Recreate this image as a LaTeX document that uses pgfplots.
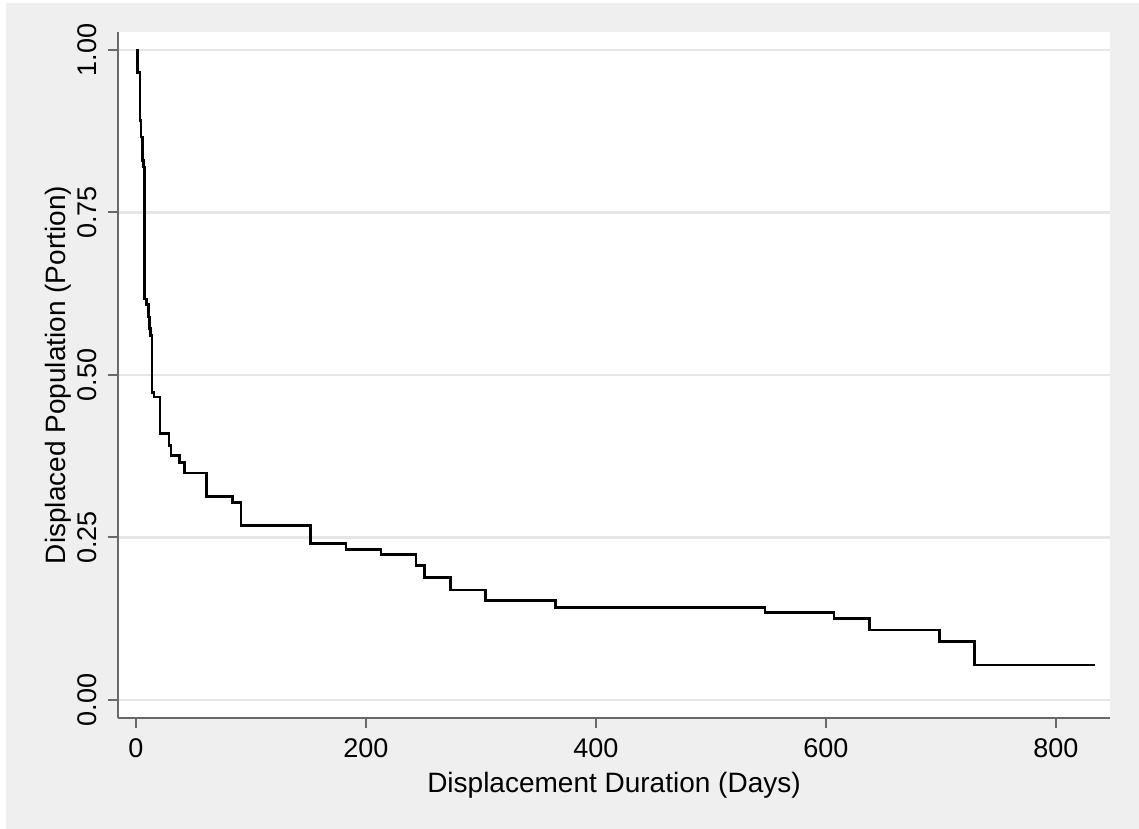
\documentclass[border=0pt]{standalone}
\usepackage{fontspec}
\setmainfont{Liberation Sans}
\usepackage{pgfplots}
\pgfplotsset{compat=1.18}
\definecolor{bggray}{RGB}{239,239,239}
\definecolor{gridgray}{RGB}{230,230,230}
\definecolor{axisgray}{RGB}{105,105,105}
\begin{document}
\begin{tikzpicture}
\path[use as bounding box, fill=white] (-59bp,-55.5bp) rectangle (510.5bp,359bp);
\fill[bggray] (-56bp,-55.5bp) rectangle (510.5bp,357.5bp);
\begin{axis}[
    at={(0,0)}, anchor=south west,
    scale only axis, width=496bp, height=343bp,
    xmin=-15.65, xmax=847, ymin=-0.0277, ymax=1.0277,
    axis x line*=bottom, axis y line*=left,
    axis line style={axisgray, line width=1bp, -},
    axis background/.style={fill=white},
    xtick={0,200,400,600,800},
    xticklabels={0,200,400,600,800},
    ytick={0,0.25,0.5,0.75,1},
    yticklabels={0.00,0.25,0.50,0.75,1.00},
    tick align=outside, major tick length=5bp,
    tick style={axisgray, line width=1bp},
    ymajorgrids, grid style={gridgray, line width=1.25bp},
    tick label style={font=\fontsize{13.5bp}{16bp}\selectfont},
    xticklabel style={anchor=north, inner sep=0pt, inner ysep=5bp},
    yticklabel style={rotate=90, anchor=south, inner sep=0pt, inner ysep=5.5bp},
    label style={font=\fontsize{14bp}{17bp}\selectfont},
    xlabel={Displacement Duration (Days)},
    ylabel={Displaced Population (Portion)},
    xlabel style={at={(axis description cs:0.5,0)}, anchor=base, yshift=-37bp},
    ylabel style={at={(axis description cs:0,0.5)}, anchor=base, yshift=26bp},
    ]
    % Kaplan-Meier steps: value holds from t until the next t
    \addplot[const plot, black, line width=1.35bp] coordinates {
    (0,1.000)
    (1.5,0.965)
    (3.5,0.892)
    (4.3,0.866)
    (5.5,0.830)
    (6.5,0.820)
    (7.5,0.617)
    (9.3,0.608)
    (10.7,0.589)
    (11.6,0.572)
    (12.8,0.561)
    (13.9,0.473)
    (15.7,0.466)
    (20.9,0.410)
    (28.7,0.392)
    (30.4,0.376)
    (38.0,0.365)
    (42.0,0.349)
    (61.5,0.313)
    (84.0,0.3035)
    (91.3,0.268)
    (152,0.241)
    (182.6,0.232)
    (213,0.2235)
    (243.5,0.2066)
    (250.7,0.188)
    (273.6,0.169)
    (304,0.1528)
    (364.6,0.1426)
    (547,0.1343)
    (607,0.1257)
    (638,0.1077)
    (698.5,0.0897)
    (729,0.0538)
    (834,0.0538)
    };
\end{axis}
\end{tikzpicture}
\end{document}
